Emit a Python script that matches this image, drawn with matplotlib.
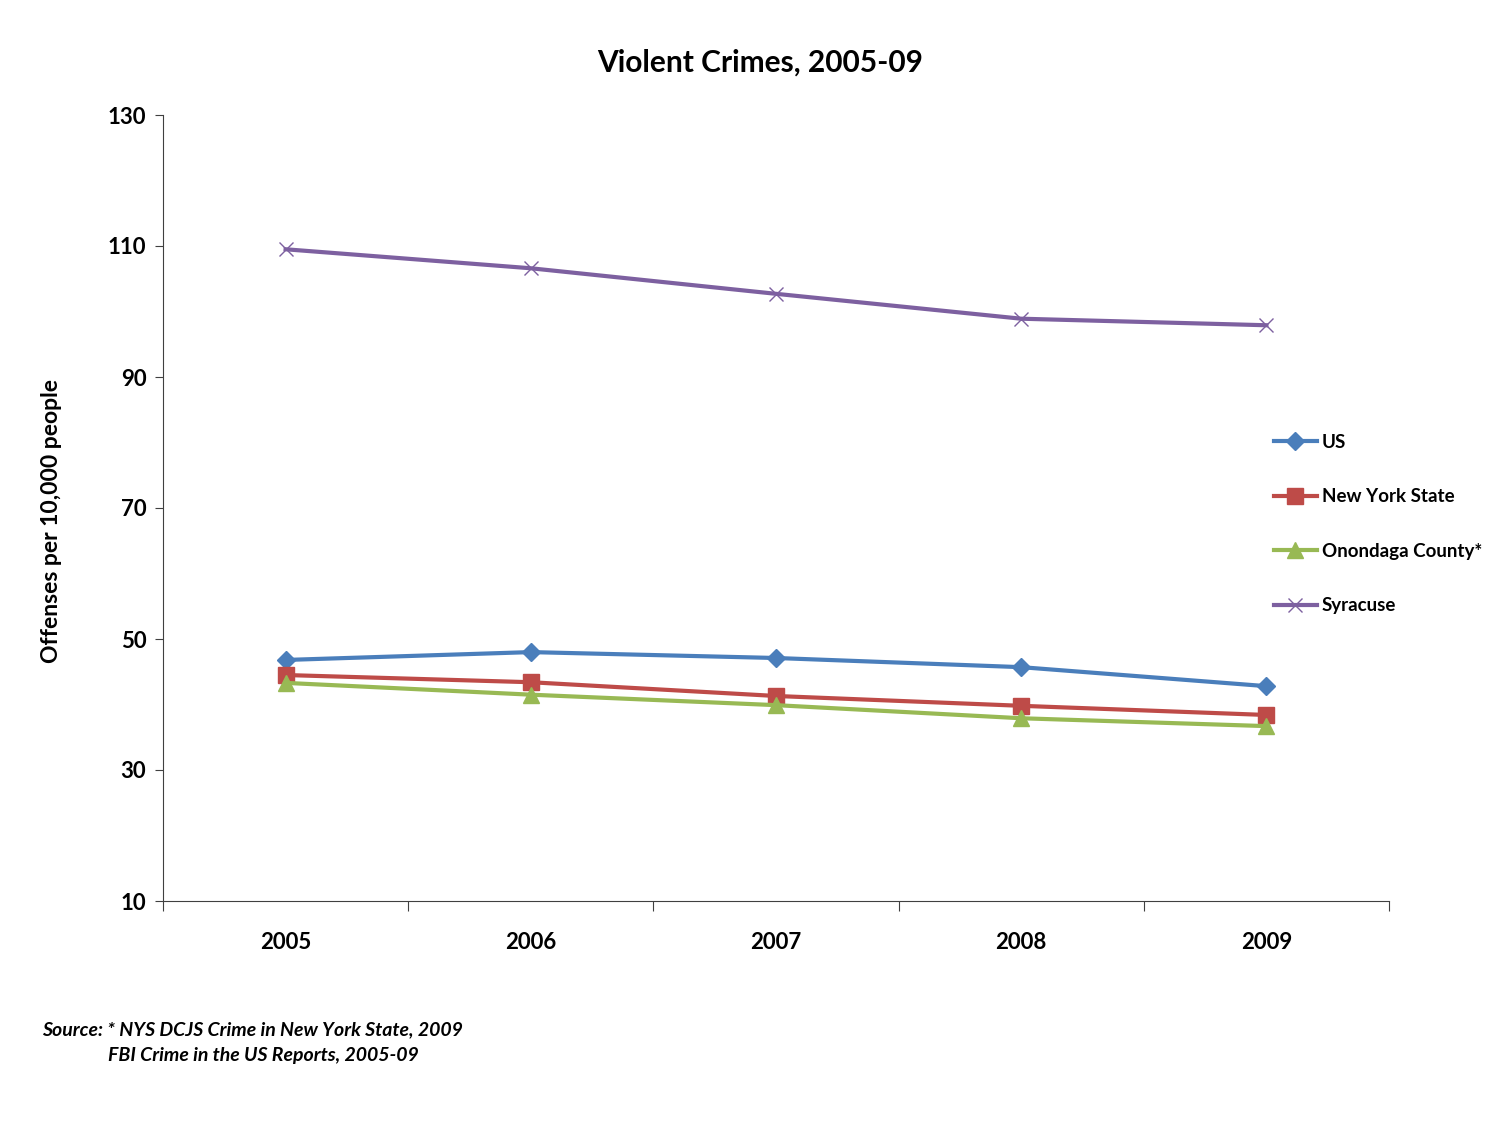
import matplotlib.pyplot as plt

plt.rcParams['font.family'] = ['Lato', 'DejaVu Sans']

years = ['2005', '2006', '2007', '2008', '2009']
us = [46.8, 48.0, 47.1, 45.7, 42.8]
nys = [44.5, 43.4, 41.3, 39.8, 38.4]
onondaga = [43.3, 41.5, 39.9, 37.9, 36.7]
syracuse = [109.5, 106.6, 102.7, 98.9, 97.9]
yticks = [10, 30, 50, 70, 90, 110, 130]

fig = plt.figure(figsize=(15.02, 11.27), dpi=100)
ax = fig.add_axes([163/1502, 1-901/1127, (1389-163)/1502, (901-115)/1127])

x = list(range(len(years)))
ax.plot(x, us, color='#4a7ebb', lw=3, marker='D', ms=9, label='US')
ax.plot(x, nys, color='#be4b48', lw=3, marker='s', ms=11, label='New York State')
ax.plot(x, onondaga, color='#98b954', lw=3, marker='^', ms=11, label='Onondaga County*')
ax.plot(x, syracuse, color='#7d60a0', lw=3, marker='x', ms=10, mew=1, label='Syracuse')

ax.set_xlim(-0.5, 4.5)
ax.set_ylim(10, 130)
ax.set_yticks(yticks)
ax.set_xticks([i - 0.5 for i in range(6)])
ax.set_xticklabels([])
ax.set_xticks(x, minor=True)
ax.set_xticklabels(years, minor=True, fontsize=16, fontweight='bold')
ax.tick_params(axis='x', which='minor', length=0, pad=22)
ax.tick_params(axis='x', which='major', length=7, color='#404040')
ax.tick_params(axis='y', length=6, color='#404040', labelsize=16, pad=6)
for lab in ax.get_yticklabels():
    lab.set_fontweight('bold')
for s in ['top', 'right']:
    ax.spines[s].set_visible(False)
for s in ['left', 'bottom']:
    ax.spines[s].set_color('#404040')

ax.set_ylabel('Offenses per 10,000 people', fontsize=16.5, fontweight='bold')
ax.yaxis.set_label_coords(-0.082, 0.484)
fig.text(0.506, 1-63/1127, 'Violent Crimes, 2005-09', ha='center', va='center',
         fontsize=21.5, fontweight='bold')

fig.legend(loc='upper left', bbox_to_anchor=(1257/1502, 1-417/1127), frameon=False,
           prop={'size': 13.5, 'weight': 'bold'}, labelspacing=2.0, handlelength=2.3,
           handletextpad=0.25)

fig.text(42/1502, 1-1030/1127, 'Source: * NYS DCJS Crime in New York State, 2009',
         fontsize=14, fontweight='bold', style='italic', va='center')
fig.text(108/1502, 1-1055/1127, 'FBI Crime in the US Reports, 2005-09',
         fontsize=14, fontweight='bold', style='italic', va='center')

fig.savefig('out.png', dpi=100)
